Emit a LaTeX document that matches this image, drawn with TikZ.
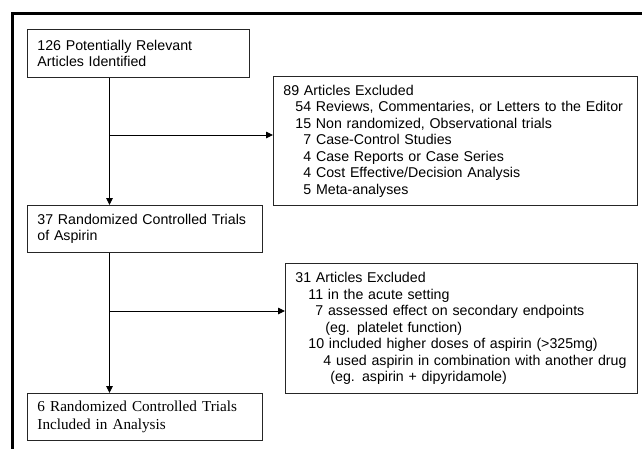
\documentclass[tikz,border=0pt]{standalone}
\usepackage{fontspec}
\setmainfont{Liberation Sans}
\newfontfamily\serifface{Liberation Serif}
\usetikzlibrary{arrows.meta}
\begin{document}
\begin{tikzpicture}[x=1pt,y=-1pt,
  box/.style={draw=black!85,line width=0.9pt,rectangle,inner xsep=10pt,inner ysep=0pt,
    align=left,anchor=north west,font=\fontsize{14.2}{16.5}\selectfont},
  arr/.style={line width=0.9pt,-{Triangle[length=7pt,width=6.5pt]}},
  plain/.style={line width=0.9pt}]
\useasboundingbox (0,0) rectangle (642,448);
\fill[white] (0,0) rectangle (642,448);
\draw[line width=3pt] (12,449) -- (12,13) -- (643,13);

\node[box,minimum width=222pt,minimum height=48pt,text width=202pt] (b1) at (27,29)
  {126 Potentially Relevant\\Articles Identified};
\node[box,minimum width=235pt,minimum height=47pt,text width=215pt] (b2) at (27,205)
  {37 Randomized Controlled Trials\\of Aspirin};
\node[box,minimum width=235pt,minimum height=47pt,text width=215pt,
  font=\serifface\fontsize{15.2}{17.6}\selectfont] (b3) at (27,393)
  {6 Randomized Controlled Trials\\Included in Analysis};
\node[box,minimum width=364pt,minimum height=129pt,text width=344pt] (e1) at (273,76)
  {89 Articles Excluded\\
   \hspace*{12pt}54 Reviews, Commentaries, or Letters to the Editor\\
   \hspace*{12pt}15 Non randomized, Observational trials\\
   \hspace*{20pt}7 Case-Control Studies\\
   \hspace*{20pt}4 Case Reports or Case Series\\
   \hspace*{20pt}4 Cost Effective/Decision Analysis\\
   \hspace*{20pt}5 Meta-analyses};
\node[box,minimum width=352pt,minimum height=130pt,text width=332pt] (e2) at (285,263)
  {31 Articles Excluded\\
   \hspace*{13pt}11 in the acute setting\\
   \hspace*{20pt}7 assessed effect on secondary endpoints\\
   \hspace*{30pt}(eg. platelet function)\\
   \hspace*{13pt}10 included higher doses of aspirin (>325mg)\\
   \hspace*{28pt}4 used aspirin in combination with another drug\\
   \hspace*{35pt}(eg. aspirin + dipyridamole)};

\coordinate (j1) at (109.5,135);
\coordinate (j2) at (109.5,311);
\draw[arr] (b1.south -| j1) -- (b2.north -| j1);
\draw[arr] (j1) -- (j1 -| e1.west);
\draw[arr] (b2.south -| j2) -- (b3.north -| j2);
\draw[arr] (j2) -- (j2 -| e2.west);
\end{tikzpicture}
\end{document}
